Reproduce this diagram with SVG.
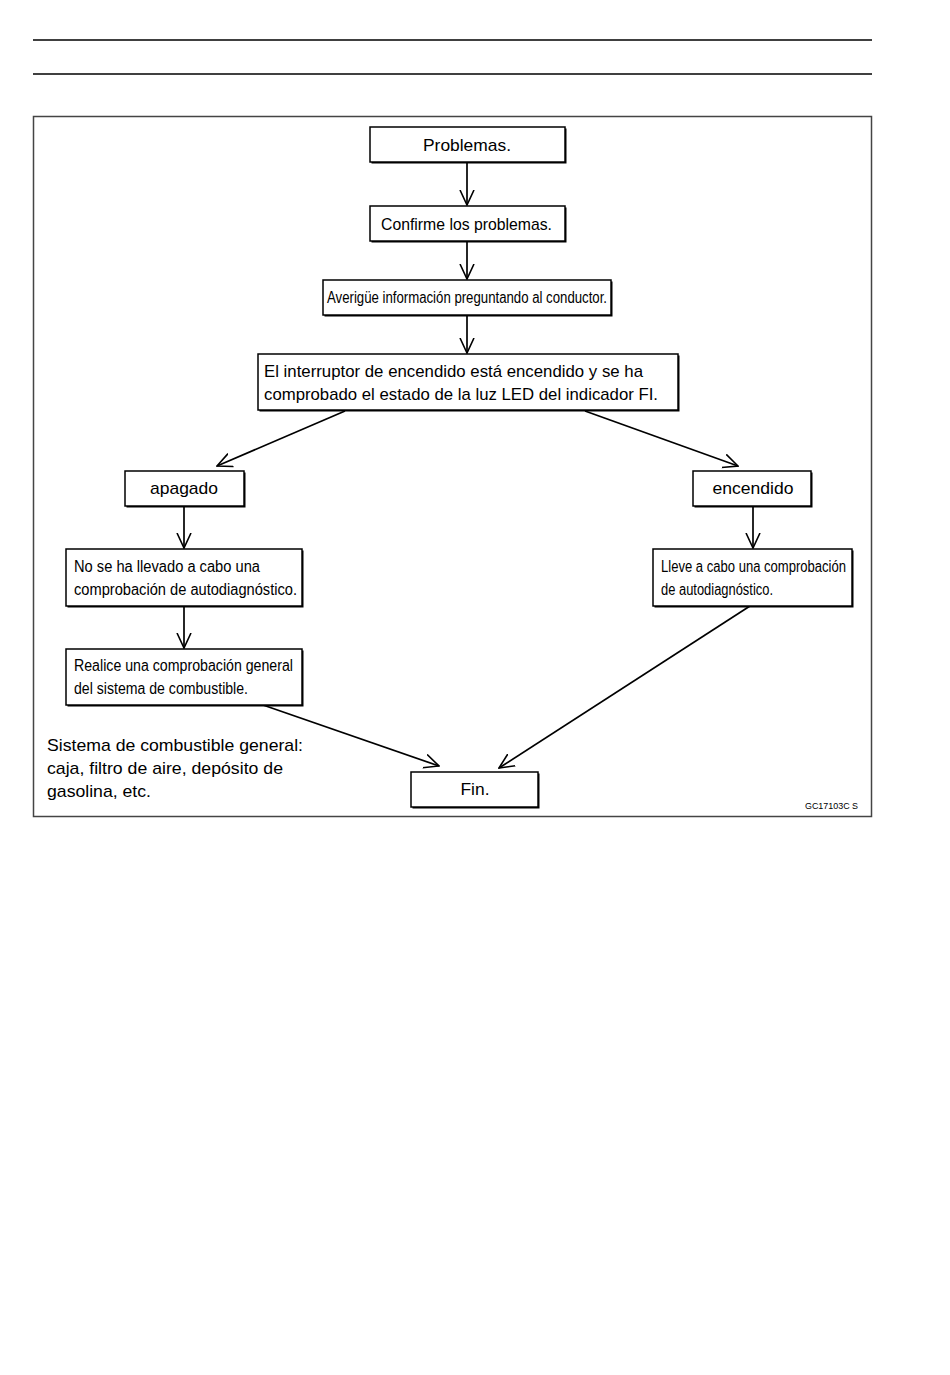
<svg xmlns="http://www.w3.org/2000/svg" width="950" height="1375" viewBox="0 0 950 1375">
<style>
.bx{fill:#fff;stroke:#000;stroke-width:1.5}
.sh{fill:#000}
.t{font-family:"Liberation Sans",Arial,sans-serif;font-size:17px;fill:#000}
.n{font-family:"Liberation Sans",Arial,sans-serif;font-size:16px;fill:#000}
.c{stroke:#000;stroke-width:1.7;fill:none;marker-end:url(#ah)}
</style>
<defs>
<marker id="ah" viewBox="0 0 16 16" refX="15" refY="8" markerWidth="16" markerHeight="16" markerUnits="userSpaceOnUse" orient="auto">
<polyline points="0,1 15,8 0,15" fill="none" stroke="#000" stroke-width="1.6"/>
</marker>
</defs>
<rect width="950" height="1375" fill="#fff"/>
<line x1="33" y1="40" x2="872" y2="40" stroke="#000" stroke-width="1.3"/>
<line x1="33" y1="74" x2="872" y2="74" stroke="#000" stroke-width="1.3"/>
<rect x="33.5" y="116.5" width="838" height="700" fill="none" stroke="#444" stroke-width="1.5"/>

<g id="connectors">
<line class="c" x1="467" y1="162" x2="467" y2="205"/>
<line class="c" x1="467" y1="241" x2="467" y2="279"/>
<line class="c" x1="467" y1="315" x2="467" y2="353"/>
<line class="c" x1="345" y1="411" x2="217" y2="466"/>
<line class="c" x1="585" y1="411" x2="738" y2="466"/>
<line class="c" x1="184" y1="506" x2="184" y2="548"/>
<line class="c" x1="184" y1="606" x2="184" y2="648"/>
<line class="c" x1="753" y1="506" x2="753" y2="548"/>
<line class="c" x1="263" y1="705" x2="439" y2="766"/>
<line class="c" x1="750" y1="606" x2="499" y2="768"/>
</g>

<g id="problemas">
<rect class="sh" x="371.5" y="128.5" width="195" height="35"/>
<rect class="bx" x="370" y="127" width="195" height="35"/>
<text class="t" x="467" y="151" text-anchor="middle" textLength="88" lengthAdjust="spacingAndGlyphs">Problemas.</text>
</g>
<g id="confirme">
<rect class="sh" x="371.5" y="207.5" width="195" height="35"/>
<rect class="bx" x="370" y="206" width="195" height="35"/>
<text class="t" x="381" y="230" textLength="171" lengthAdjust="spacingAndGlyphs">Confirme los problemas.</text>
</g>
<g id="averigue">
<rect class="sh" x="324.5" y="281.5" width="288" height="35"/>
<rect class="bx" x="323" y="280" width="288" height="35"/>
<text class="n" x="327" y="303" textLength="280" lengthAdjust="spacingAndGlyphs">Averigüe información preguntando al conductor.</text>
</g>
<g id="interruptor">
<rect class="sh" x="259.5" y="355.5" width="420" height="56"/>
<rect class="bx" x="258" y="354" width="420" height="56"/>
<text class="t" x="264" y="377" textLength="379" lengthAdjust="spacingAndGlyphs">El interruptor de encendido está encendido y se ha</text>
<text class="t" x="264" y="400" textLength="394" lengthAdjust="spacingAndGlyphs">comprobado el estado de la luz LED del indicador FI.</text>
</g>
<g id="apagado">
<rect class="sh" x="126.5" y="472.5" width="119" height="35"/>
<rect class="bx" x="125" y="471" width="119" height="35"/>
<text class="t" x="184" y="494" text-anchor="middle" textLength="68" lengthAdjust="spacingAndGlyphs">apagado</text>
</g>
<g id="encendido">
<rect class="sh" x="694.5" y="472.5" width="118" height="35"/>
<rect class="bx" x="693" y="471" width="118" height="35"/>
<text class="t" x="753" y="494" text-anchor="middle" textLength="81" lengthAdjust="spacingAndGlyphs">encendido</text>
</g>
<g id="nose">
<rect class="sh" x="67.5" y="550.5" width="236" height="57"/>
<rect class="bx" x="66" y="549" width="236" height="57"/>
<text class="n" x="74" y="572" textLength="186" lengthAdjust="spacingAndGlyphs">No se ha llevado a cabo una</text>
<text class="n" x="74" y="595" textLength="223" lengthAdjust="spacingAndGlyphs">comprobación de autodiagnóstico.</text>
</g>
<g id="lleve">
<rect class="sh" x="654.5" y="550.5" width="199" height="57"/>
<rect class="bx" x="653" y="549" width="199" height="57"/>
<text class="n" x="661" y="572" textLength="185" lengthAdjust="spacingAndGlyphs">Lleve a cabo una comprobación</text>
<text class="n" x="661" y="595" textLength="112" lengthAdjust="spacingAndGlyphs">de autodiagnóstico.</text>
</g>
<g id="realice">
<rect class="sh" x="67.5" y="650.5" width="236" height="56"/>
<rect class="bx" x="66" y="649" width="236" height="56"/>
<text class="n" x="74" y="671" textLength="219" lengthAdjust="spacingAndGlyphs">Realice una comprobación general</text>
<text class="n" x="74" y="694" textLength="174" lengthAdjust="spacingAndGlyphs">del sistema de combustible.</text>
</g>
<g id="fin">
<rect class="sh" x="412.5" y="773.5" width="127" height="35"/>
<rect class="bx" x="411" y="772" width="127" height="35"/>
<text class="t" x="475" y="795" text-anchor="middle" textLength="29" lengthAdjust="spacingAndGlyphs">Fin.</text>
</g>
<g id="nota">
<text class="t" x="47" y="751" textLength="256" lengthAdjust="spacingAndGlyphs">Sistema de combustible general:</text>
<text class="t" x="47" y="774" textLength="236" lengthAdjust="spacingAndGlyphs">caja, filtro de aire, depósito de</text>
<text class="t" x="47" y="797" textLength="104" lengthAdjust="spacingAndGlyphs">gasolina, etc.</text>
</g>
<text x="805" y="809" font-family="Liberation Sans,Arial,sans-serif" font-size="9" textLength="53" lengthAdjust="spacingAndGlyphs">GC17103C  S</text>
</svg>
